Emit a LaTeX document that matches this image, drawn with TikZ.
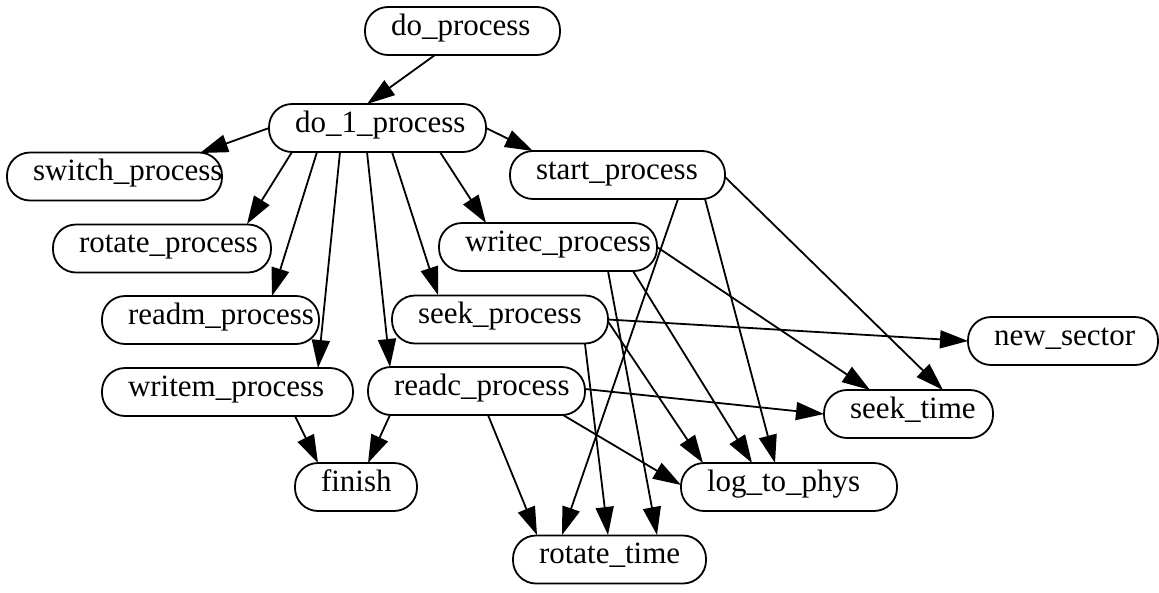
\documentclass[tikz,border=0pt]{standalone}
\usepackage{fontspec}
\setmainfont{Liberation Serif}
\usetikzlibrary{arrows.meta,calc}
\newcommand\lbl[2]{\makebox[#1pt][l]{#2}}
\begin{document}
\begin{tikzpicture}[x=1pt,y=-1pt,
  proc/.style={draw, line width=1.8pt, rounded corners=23pt, inner xsep=26pt, inner ysep=0pt,
               text height=28pt, text depth=20pt, font=\fontsize{31}{31}\selectfont},
  edge/.style={line width=1.8pt, -{Triangle[length=28pt,width=18pt]}}]
\useasboundingbox (0,0) rectangle (1159,592);

\node[proc] (do)  at (462.5,31)   {\lbl{143}{do\_process}};
\node[proc] (d1)  at (377.5,128)  {\lbl{165}{do\_1\_process}};
\node[proc] (sw)  at (114.5,176.5){\lbl{163}{switch\_process}};
\node[proc] (st)  at (617.5,175)  {\lbl{163}{start\_process}};
\node[proc] (rp)  at (162,248.5)  {\lbl{166}{rotate\_process}};
\node[proc] (wc)  at (548,247)    {\lbl{166}{writec\_process}};
\node[proc] (rm)  at (210.5,320)  {\lbl{165}{readm\_process}};
\node[proc] (sk)  at (500,319.5)  {\lbl{164}{seek\_process}};
\node[proc] (ns)  at (1063,341)   {\lbl{138}{new\_sector}};
\node[proc] (wm)  at (227.5,392)  {\lbl{199}{writem\_process}};
\node[proc] (rc)  at (476.5,391)  {\lbl{165}{readc\_process}};
\node[proc] (stm) at (908.5,414)  {\lbl{117}{seek\_time}};
\node[proc] (fi)  at (356,487)    {\lbl{70}{finish}};
\node[proc] (lp)  at (789,487)    {\lbl{164}{log\_to\_phys}};
\node[proc] (rt)  at (609.5,559.5){\lbl{141}{rotate\_time}};

\draw[edge] ($(do)+(-27.5,24)$) -- ($(d1)+(-10.5,-24)$);
\draw[edge] ($(d1)+(-108.5,0)$) -- ($(sw)+(85.5,-23.5)$);
\draw[edge] ($(d1)+(108.5,0)$) -- ($(st)+(-84.5,-24)$);
\draw[edge] ($(d1)+(-85.5,24)$) -- ($(rp)+(85,-24.5)$);
\draw[edge] ($(d1)+(-60.5,24)$) -- ($(rm)+(61.5,-24)$);
\draw[edge] ($(d1)+(-37.5,24)$) -- ($(wm)+(90.5,-24)$);
\draw[edge] ($(d1)+(-10.5,24)$) -- ($(rc)+(-86.5,-24)$);
\draw[edge] ($(d1)+(14.5,24)$) -- ($(sk)+(-62,-24.5)$);
\draw[edge] ($(d1)+(62.5,24)$) -- ($(wc)+(-62,-24)$);

\draw[edge] ($(st)+(60.5,24)$) -- ($(rt)+(-47.5,-24.5)$);
\draw[edge] ($(st)+(87.5,24)$) -- ($(lp)+(-14,-24)$);
\draw[edge] ($(st)+(107.5,2)$) -- ($(stm)+(34.5,-24)$);

\draw[edge] ($(wc)+(109,0)$) -- ($(stm)+(-38.5,-24)$);
\draw[edge] ($(wc)+(60,24)$) -- ($(rt)+(47.5,-24.5)$);
\draw[edge] ($(wc)+(85,24)$) -- ($(lp)+(-37,-24)$);

\draw[edge] ($(sk)+(108,0)$) -- ($(ns)+(-95,0)$);
\draw[edge] ($(sk)+(108,2)$) -- ($(lp)+(-86,-24)$);
\draw[edge] ($(sk)+(85,24.5)$) -- ($(rt)+(-1.5,-24.5)$);

\draw[edge] ($(rc)+(108.5,-2)$) -- ($(stm)+(-84.5,0)$);
\draw[edge] ($(rc)+(86.5,24)$) -- ($(lp)+(-108,-2)$);
\draw[edge] ($(rc)+(11.5,24)$) -- ($(rt)+(-72.5,-24.5)$);
\draw[edge] ($(rc)+(-86.5,24)$) -- ($(fi)+(12,-24)$);
\draw[edge] ($(wm)+(67.5,24)$) -- ($(fi)+(-38,-24)$);
\end{tikzpicture}
\end{document}
